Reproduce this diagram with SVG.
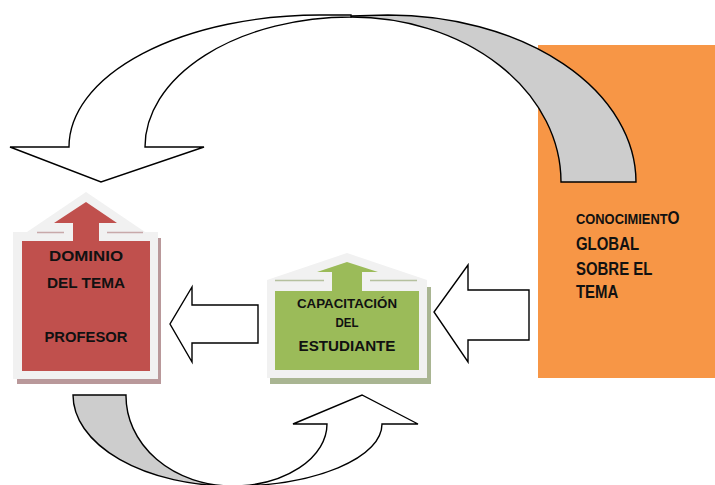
<svg xmlns="http://www.w3.org/2000/svg" width="715" height="485" viewBox="0 0 715 485">
<style>
.ol{stroke:#000;stroke-width:1.4;stroke-linejoin:miter}
.w{fill:#fff}
.g{fill:#cdcdcd}
.frame{fill:#f1f1f1}
.t{font-family:"Liberation Sans",Arial,sans-serif;font-weight:bold;fill:#111;text-anchor:middle}
.to{font-family:"Liberation Sans",Arial,sans-serif;font-weight:bold;fill:#111}
</style>
<rect width="715" height="485" fill="#fff"/>
<g id="conocimiento">
<rect x="538" y="45" width="177" height="333" fill="#f79646"/>
<text class="to" transform="translate(576,224) scale(0.86,1)" font-size="15">CONOCIMIENT<tspan font-size="18">O</tspan></text>
<text class="to" transform="translate(576,250) scale(0.83,1)" font-size="18">GLOBAL</text>
<text class="to" transform="translate(576,275) scale(0.83,1)" font-size="18">SOBRE EL</text>
<text class="to" transform="translate(576,298) scale(0.83,1)" font-size="18">TEMA</text>
</g>
<g id="dominio">
<rect x="17" y="238" width="144" height="146" fill="#b9989a"/>
<path class="frame" d="M13,232 L27,232 L86,192 L145,232 L158,232 L158,379 L13,379 Z"/>
<path d="M37,232.5 H64 M107,232.5 H143" stroke="#c8a9aa" stroke-width="1.5"/>
<rect x="22" y="241" width="128" height="130" fill="#c0504d"/>
<path d="M73,241 L73,223 L54,223 L86,202 L117,223 L99,223 L99,241 Z" fill="#c0504d"/>
<text class="t" x="86" y="261" font-size="15.5" textLength="74" lengthAdjust="spacingAndGlyphs">DOMINIO</text>
<text class="t" x="86" y="288" font-size="15.5" textLength="78" lengthAdjust="spacingAndGlyphs">DEL TEMA</text>
<text class="t" x="86" y="342" font-size="15.5" textLength="83" lengthAdjust="spacingAndGlyphs">PROFESOR</text>
</g>
<g id="capacitacion">
<rect x="270" y="287" width="161" height="97" fill="#a9b592"/>
<path class="frame" d="M267,280 L347,253 L427,280 L427,378 L267,378 Z"/>
<path d="M275,280.5 H324 M370,280.5 H417" stroke="#b5c09e" stroke-width="1.5"/>
<rect x="275" y="291" width="144" height="79" fill="#9bbb59"/>
<path d="M332,291 L332,272 L317,272 L347,262 L378,272 L362,272 L362,291 Z" fill="#9bbb59"/>
<text class="t" x="347" y="308" font-size="13.5" textLength="100" lengthAdjust="spacingAndGlyphs">CAPACITACIÓN</text>
<text class="t" x="347" y="327" font-size="12.5" textLength="23" lengthAdjust="spacingAndGlyphs">DEL</text>
<text class="t" x="347" y="351" font-size="15" textLength="97" lengthAdjust="spacingAndGlyphs">ESTUDIANTE</text>
</g>
<g id="connectors">
<path class="ol g" d="M351,16 L388,15 A248,167 0 0 1 636,182 L561,182 A210,165 0 0 0 351,17 Z"/>
<path class="ol w" d="M10,147 L69,147 A251,132 0 0 1 320,15 L351,15 L351,17 A206,130 0 0 0 145,147 L204,147 L101,182 Z"/>
<path class="ol w" d="M258,305 L192,305 L192,287 L170,324 L192,362 L192,343 L258,343 Z"/>
<path class="ol w" d="M529,290 L468,290 L468,265 L434,312 L468,362 L468,340 L529,340 Z"/>
<path class="ol g" d="M73,395 L126,395 A106,90 0 0 0 232,486 A159,91 0 0 1 73,395 Z"/>
<path class="ol w" d="M232,486 A95,62 0 0 0 327,424 L293,424 L362,395 L418,424 L382,424 A150,62 0 0 1 232,486 Z"/>
</g>
</svg>
